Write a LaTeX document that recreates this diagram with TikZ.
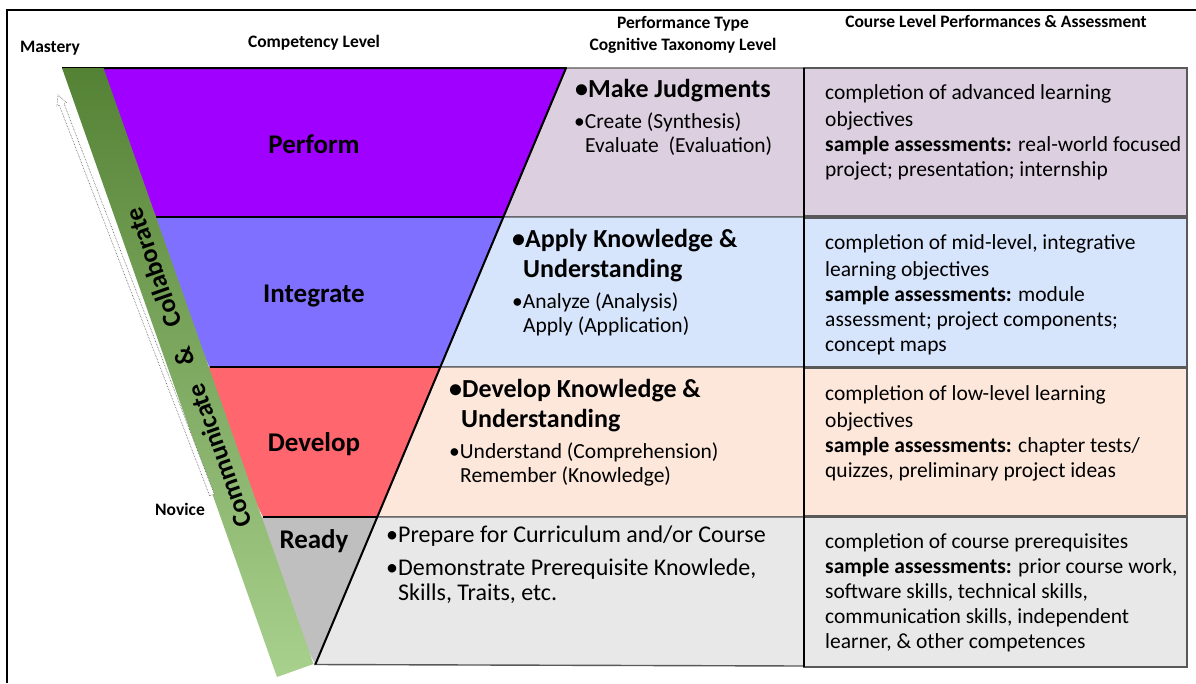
\documentclass[tikz,border=0pt]{standalone}
\usepackage{fontspec}
\setmainfont{Carlito}
\definecolor{cperf}{RGB}{160,0,255}
\definecolor{cinte}{RGB}{128,112,255}
\definecolor{cdeve}{RGB}{255,102,110}
\definecolor{cread}{RGB}{191,191,191}
\definecolor{mperf}{RGB}{220,208,224}
\definecolor{minte}{RGB}{214,228,252}
\definecolor{mdeve}{RGB}{253,231,219}
\definecolor{mread}{RGB}{232,232,232}
\definecolor{gdark}{RGB}{84,130,53}
\definecolor{glight}{RGB}{169,209,142}
\definecolor{gridc}{RGB}{89,89,89}
\begin{document}
\begin{tikzpicture}[x=1pt,y=-1pt,
  hdr/.style={font=\fontsize{17.5}{20}\selectfont\bfseries, anchor=base, inner sep=0pt},
  lvl/.style={font=\fontsize{27}{30}\selectfont\bfseries, anchor=base, inner sep=0pt},
  big/.style={font=\fontsize{26}{30}\selectfont\bfseries, anchor=base west, inner sep=0pt},
  sml/.style={font=\fontsize{21.5}{25}\selectfont, anchor=base west, inner sep=0pt},
  rdy/.style={font=\fontsize{24}{28}\selectfont, anchor=base west, inner sep=0pt},
  bandtxt/.style={font=\fontsize{26}{30}\selectfont\bfseries, rotate=109.45, inner sep=0pt},
  cell/.style={draw=gridc, line width=1.4pt},
  edge/.style={draw=black, line width=2pt, line join=round}]
\useasboundingbox (0,0) rectangle (1196,683);
\fill[white] (0,0) rectangle (1196,683);
% outer frame
\draw[line width=2pt] (7,683) -- (7,10) -- (1196,10);
% middle column cells
\filldraw[cell, fill=mperf] (566,68) -- (804,68) -- (804,217) -- (503.4,217) -- cycle;
\filldraw[cell, fill=minte] (503.4,217) -- (804,217) -- (804,367) -- (440.3,367) -- cycle;
\filldraw[cell, fill=mdeve] (440.3,367) -- (804,367) -- (804,517) -- (377.2,517) -- cycle;
\filldraw[cell, fill=mread] (377.2,517) -- (804,517) -- (804,666) -- (315,664.5) -- cycle;
% right column cells
\filldraw[cell, fill=mperf] (804,68) rectangle (1187,216);
\filldraw[cell, fill=minte] (804,218) rectangle (1187,367);
\filldraw[cell, fill=mdeve] (804,368) rectangle (1187,516);
\filldraw[cell, fill=mread] (804,517) rectangle (1187,667);
\draw[line width=2.5pt] (804,68) -- (804,667);
% triangle levels
\fill[cperf] (80,68) -- (566,68) -- (503.4,217) -- (156,217) -- cycle;
\fill[cinte] (140,217) -- (503.4,217) -- (440.3,367) -- (209.5,367) -- cycle;
\fill[cdeve] (190,367) -- (440.3,367) -- (377.2,517) -- (263,517) -- cycle;
\fill[cread] (240,517) -- (377.2,517) -- (315.3,664.5) -- cycle;
\draw[edge] (62,68) -- (566,68) -- (315.3,664.5);
\draw[edge] (156,217) -- (503.4,217);
\draw[edge] (209.5,367) -- (440.3,367);
\draw[edge] (263,517) -- (377.2,517);
% band
\shade[top color=gdark, bottom color=glight] (62,68) -- (103.5,68) -- (313.5,664) -- (277,677) -- cycle;
% arrow from novice to mastery
\filldraw[fill=white, draw=gray!70!black, densely dotted, line width=0.6pt]
  (214.3,494.1) -- (63.9,103.4) -- (66.3,102.5) -- (58,95) -- (56.9,106.1) -- (59.3,105.2) -- (209.7,495.9) -- cycle;
\node[bandtxt] (bcomm) at (219.5,456) {Communicate};
\node[bandtxt] (bamp) at (184.5,357) {\&};
\node[bandtxt] (bcoll) at (153.1,268) {Collaborate};
% headers
\node[hdr] (hmast) at (50,52) {Mastery};
\node[hdr] (hcomp) at (314,47) {Competency Level};
\node[hdr] (hperf) at (683,28) {Performance Type};
\node[hdr] (hcogn) at (683,50) {Cognitive Taxonomy Level};
\node[hdr] (hcour) at (996,27) {Course Level Performances \& Assessment};
\node[hdr] (hnov) at (180,515) {Novice};
% levels
\node[lvl] (lperf) at (314,153) {Perform};
\node[lvl] (linte) at (314,302) {Integrate};
\node[lvl] (ldeve) at (314,451) {Develop};
\node[lvl] (lread) at (314,548) {Ready};
% middle column texts
\node[big] (m1a) at (575,97) {•Make Judgments};
\node[sml] (m1b) at (574,128) {•Create (Synthesis)};
\node[sml] (m1c) at (585,152) {Evaluate\ \ (Evaluation)};
\node[big] (m2a) at (512,247) {•Apply Knowledge \&};
\node[big] (m2b) at (523,277) {Understanding};
\node[sml] (m2c) at (512,308) {•Analyze (Analysis)};
\node[sml] (m2d) at (523,332) {Apply (Application)};
\node[big] (m3a) at (449,397) {•Develop Knowledge \&};
\node[big] (m3b) at (461,427) {Understanding};
\node[sml] (m3c) at (449,458) {•Understand (Comprehension)};
\node[sml] (m3d) at (460,482) {Remember (Knowledge)};
\node[rdy] (m4a) at (386,542) {•Prepare for Curriculum and/or Course};
\node[rdy] (m4b) at (386,575) {•Demonstrate Prerequisite Knowlede,};
\node[rdy] (m4c) at (398,600) {Skills, Traits, etc.};
% right column texts
\node[sml] (r1a) at (825,99) {completion of advanced learning};
\node[sml] (r1b) at (825,126) {objectives};
\node[sml] (r1c) at (825,151) {\textbf{sample assessments:} real-world focused};
\node[sml] (r1d) at (825,176) {project; presentation; internship};
\node[sml] (r2a) at (825,249) {completion of mid-level, integrative};
\node[sml] (r2b) at (825,276) {learning objectives};
\node[sml] (r2c) at (825,301) {\textbf{sample assessments:} module};
\node[sml] (r2d) at (825,326) {assessment; project components;};
\node[sml] (r2e) at (825,351) {concept maps};
\node[sml] (r3a) at (825,400) {completion of low-level learning};
\node[sml] (r3b) at (825,427) {objectives};
\node[sml] (r3c) at (825,452) {\textbf{sample assessments:} chapter tests/};
\node[sml] (r3d) at (825,477) {quizzes, preliminary project ideas};
\node[sml] (r4a) at (825,548) {completion of course prerequisites};
\node[sml] (r4b) at (825,573) {\textbf{sample assessments:} prior course work,};
\node[sml] (r4c) at (825,598) {software skills, technical skills,};
\node[sml] (r4d) at (825,623) {communication skills, independent};
\node[sml] (r4e) at (825,648) {learner, \& other competences};
\end{tikzpicture}
\end{document}
